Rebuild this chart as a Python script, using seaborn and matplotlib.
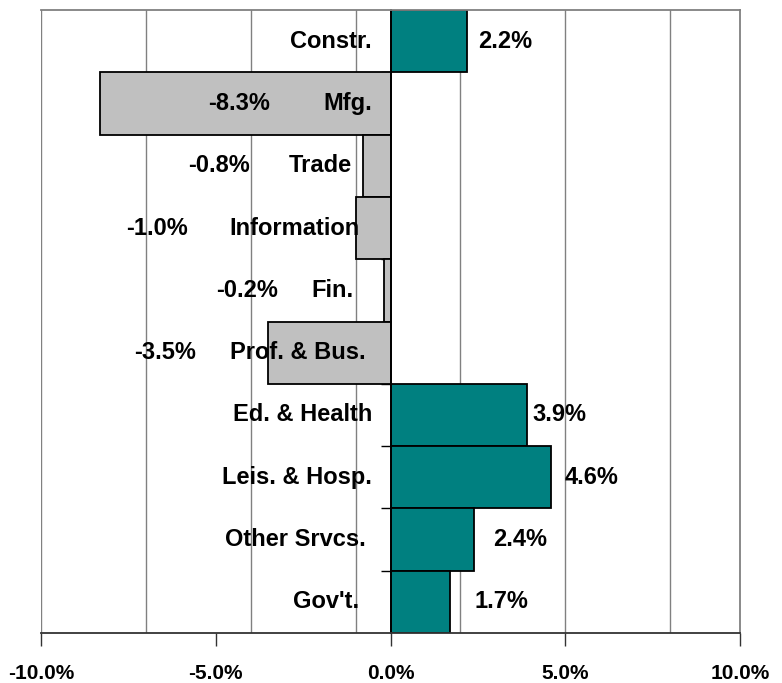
import numpy as np
import pandas as pd
import seaborn as sns
from matplotlib import pyplot as plt

# employment change by sector
sectors = ['Constr.', 'Mfg.', 'Trade', 'Information', 'Fin.', 'Prof. & Bus.',
           'Ed. & Health', 'Leis. & Hosp.', 'Other Srvcs.', "Gov't."]
change = [2.2, -8.3, -0.8, -1.0, -0.2, -3.5, 3.9, 4.6, 2.4, 1.7]
x_ticks = [-10, -5, 0, 5, 10]
grid_x = [-10, -7, -4, -1, 2, 5, 8]

# where Excel left the labels (x, data units)
name_right = [-0.53, -0.53, -1.10, -0.87, -1.07, -0.70, -0.53, -0.53, -0.70, -0.90]
value_center = [3.28, -4.33, -4.90, -6.68, -4.10, -6.45, 4.84, 5.74, 3.70, 3.18]

df = pd.DataFrame({'sector': sectors, 'change': change})
colors = {s: ('#008080' if v >= 0 else '#C0C0C0') for s, v in zip(sectors, change)}

sns.set_style('white')
plt.rcParams['font.family'] = ['Liberation Sans', 'DejaVu Sans']
plt.rcParams['text.color'] = 'black'
plt.rcParams['xtick.color'] = 'black'
plt.rcParams['ytick.color'] = 'black'

fig = plt.figure(figsize=(7.82, 6.83), dpi=100)
ax = fig.add_axes([41 / 782, 1 - 633 / 683, 699 / 782, 623 / 683])

for gx in grid_x:
    ax.axvline(gx, color='#808080', lw=1.0, zorder=0.5)

sns.barplot(data=df, x='change', y='sector', hue='sector', palette=colors,
            saturation=1, legend=False, width=1.0, edgecolor='black',
            linewidth=1.3, orient='h', ax=ax, zorder=2)

ax.set_xlim(-10, 10)
ax.set_ylim(len(sectors) - 0.5, -0.5)
ax.set_axisbelow(True)

# axes: zero line carries the category ticks
ax.spines['left'].set_position(('data', 0))
ax.spines['left'].set_color('black')
ax.spines['left'].set_linewidth(1.3)
ax.spines['bottom'].set_color('#333333')
ax.spines['bottom'].set_linewidth(1.3)
for side in ['top', 'right']:
    ax.spines[side].set_color('#808080')
    ax.spines[side].set_linewidth(1.3)

ax.set_yticks(np.arange(len(sectors) - 1) + 0.5)
ax.set_yticklabels([])
ax.tick_params(axis='y', direction='out', length=7, width=1, color='black', left=True)

ax.set_xticks(x_ticks)
ax.set_xticklabels([f'{v:.1f}%' for v in x_ticks], fontweight='bold',
                   fontsize=15, color='black')
ax.tick_params(axis='x', direction='out', length=9, width=1, color='#333333',
               bottom=True, pad=13)
ax.set_xlabel('')
ax.set_ylabel('')

for i, (name, v) in enumerate(zip(sectors, change)):
    ax.text(name_right[i], i, name, ha='right', va='center', color='black',
            fontsize=17, fontweight='bold', zorder=3)
    ax.text(value_center[i], i, f'{v:.1f}%', ha='center', va='center',
            color='black', fontsize=17, fontweight='bold', zorder=3)

fig.savefig('out.png', dpi=100)
